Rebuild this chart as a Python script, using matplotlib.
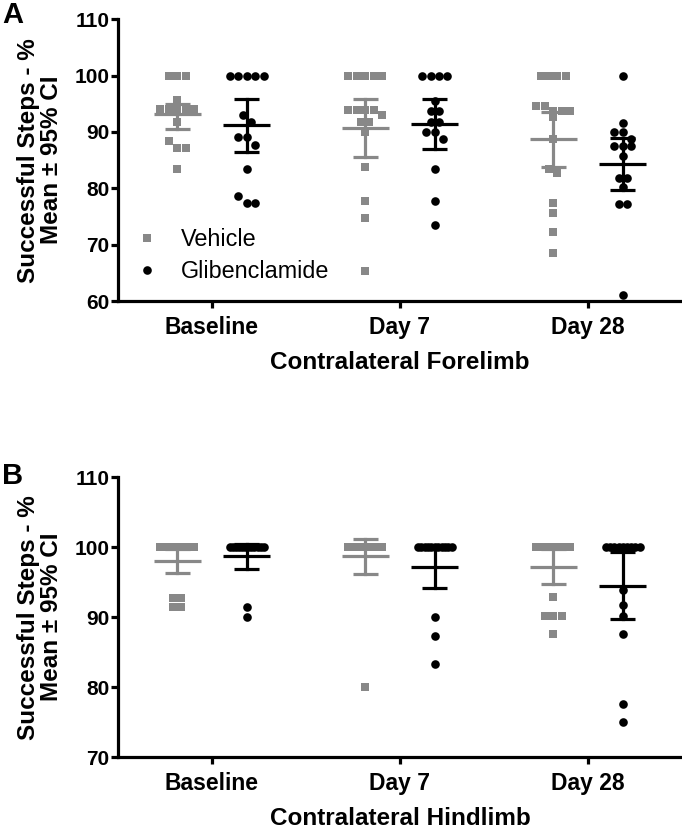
import numpy as np
import matplotlib
matplotlib.use('Agg')
import matplotlib.pyplot as plt
from matplotlib.lines import Line2D

plt.rcParams['font.family'] = ['Liberation Sans', 'DejaVu Sans']

groups = ['Baseline', 'Day 7', 'Day 28']

# Panel A - forelimb, individual animals (% successful steps)
fore_vehicle = [
    [100, 100, 100, 95.6, 94, 94, 94, 94, 94, 91.8, 88.4, 87.1, 87.1, 83.5],
    [100, 100, 100, 100, 100, 93.9, 93.9, 93.9, 93.9, 93.0, 91.8, 91.8, 90.0, 83.8, 77.7, 74.7, 65.3],
    [100, 100, 100, 100, 94.6, 94.6, 93.8, 93.8, 93.8, 92.7, 88.7, 83.5, 82.8, 77.4, 75.7, 72.3, 68.5],
]
fore_glib = [
    [100, 100, 100, 100, 100, 93.0, 91.8, 89.1, 89.1, 87.7, 83.5, 78.7, 77.4, 77.4],
    [100, 100, 100, 100, 95.5, 93.7, 93.7, 91.8, 91.8, 90.0, 90.0, 88.8, 83.4, 77.8, 73.5],
    [100, 91.6, 90.0, 90.0, 88.8, 87.5, 87.5, 87.5, 85.7, 81.8, 81.8, 80.2, 77.3, 77.3, 61.1],
]
fore_vehicle_mean = [93.1, 90.7, 88.8]
fore_vehicle_lo = [90.5, 85.6, 83.7]
fore_vehicle_hi = [95.0, 95.8, 93.6]
fore_glib_mean = [91.2, 91.4, 84.4]
fore_glib_lo = [86.4, 86.9, 79.7]
fore_glib_hi = [95.9, 95.8, 89.0]

# Panel B - hindlimb
hind_vehicle = [
    [100] * 12 + [92.7, 92.7, 91.5, 91.5],
    [100] * 14 + [80.0],
    [100] * 12 + [92.9, 90.1, 90.1, 90.1, 87.6],
]
hind_glib = [
    [100] * 12 + [91.5, 90.0],
    [100] * 11 + [90.0, 87.3, 83.3],
    [100] * 9 + [93.9, 91.7, 90.1, 87.6, 77.6, 75.0],
]
hind_vehicle_mean = [98.0, 98.7, 97.2]
hind_vehicle_lo = [96.3, 96.1, 94.7]
hind_vehicle_hi = [99.8, 101.2, 99.7]
hind_glib_mean = [98.7, 97.2, 94.4]
hind_glib_lo = [96.9, 94.2, 89.8]
hind_glib_hi = [100.4, 100.2, 99.3]

GREY = '#888888'
BLACK = '#000000'


def spread(vals, tol, step=0.045, maxw=0.18):
    # GraphPad-like scatter: points with close values are laid out side by side
    vals = np.asarray(vals, dtype=float)
    order = np.argsort(-vals, kind='stable')
    offs = np.zeros(len(vals))
    rows = []
    for i in order:
        if rows and vals[rows[-1][0]] - vals[i] <= tol:
            rows[-1].append(i)
        else:
            rows.append([i])
    for r in rows:
        n = len(r)
        s = min(step, maxw / (n - 1)) if n > 1 else 0
        for k, i in enumerate(r):
            offs[i] = (k - (n - 1) / 2) * s
    return offs


def draw_panel(ax, veh, glib, stats_v, stats_g, ylim, yticks, tol, xlabel):
    for gi in range(len(groups)):
        for data, off, col, mk, ms, (m, lo, hi) in [
            (veh[gi], -0.185, GREY, 's', 5.5, stats_v),
            (glib[gi], 0.185, BLACK, 'o', 6.2, stats_g),
        ]:
            xc = gi + off
            xs = xc + spread(data, tol)
            ax.plot(xs, data, ls='none', marker=mk, ms=ms, color=col,
                    markeredgewidth=0, zorder=3)
            ax.plot([xc - 0.125, xc + 0.125], [m[gi], m[gi]], color=col, lw=2.3,
                    solid_capstyle='butt', zorder=4)
            ax.plot([xc, xc], [lo[gi], hi[gi]], color=col, lw=2.3, zorder=4)
            for yv in (lo[gi], hi[gi]):
                ax.plot([xc - 0.067, xc + 0.067], [yv, yv], color=col, lw=2.3,
                        solid_capstyle='butt', zorder=4)

    ax.set_xlim(-0.5, 2.5)
    ax.set_ylim(*ylim)
    ax.set_yticks(yticks)
    ax.set_xticks(range(len(groups)))
    ax.set_xticklabels(groups)
    for s in ('top', 'right'):
        ax.spines[s].set_visible(False)
    for s in ('left', 'bottom'):
        ax.spines[s].set_linewidth(2.3)
    ax.tick_params(width=2.3, length=5)
    ax.tick_params(axis='y', labelsize=15, pad=1)
    ax.tick_params(axis='x', labelsize=16.5, pad=6)
    for lab in ax.get_xticklabels() + ax.get_yticklabels():
        lab.set_fontweight('bold')
    ax.set_ylabel('Successful Steps - %\nMean \u00b1 95% CI', fontsize=17.5,
                  fontweight='bold', linespacing=1.0)
    ax.yaxis.set_label_coords(-0.098, 0.5)
    ax.set_xlabel(xlabel, fontsize=17.5, fontweight='bold')
    ax.xaxis.set_label_coords(0.5, -0.178)


fig = plt.figure(figsize=(6.82, 8.32), dpi=100)
axA = fig.add_axes([0.173, 0.638, 0.827, 0.339])
axB = fig.add_axes([0.173, 0.090, 0.827, 0.3365])

draw_panel(axA, fore_vehicle, fore_glib,
           (fore_vehicle_mean, fore_vehicle_lo, fore_vehicle_hi),
           (fore_glib_mean, fore_glib_lo, fore_glib_hi),
           (60, 110), [60, 70, 80, 90, 100, 110], 1.4, 'Contralateral Forelimb')
draw_panel(axB, hind_vehicle, hind_glib,
           (hind_vehicle_mean, hind_vehicle_lo, hind_vehicle_hi),
           (hind_glib_mean, hind_glib_lo, hind_glib_hi),
           (70, 110), [70, 80, 90, 100, 110], 1.1, 'Contralateral Hindlimb')

for ax in (axA, axB):
    for ln in ax.lines:
        ln.set_clip_on(False)

handles = [
    Line2D([], [], ls='none', marker='s', ms=5.5, color=GREY, markeredgewidth=0),
    Line2D([], [], ls='none', marker='o', ms=6.2, color=BLACK, markeredgewidth=0),
]
axA.legend(handles, ['Vehicle', 'Glibenclamide'], loc='lower left',
           bbox_to_anchor=(-0.005, -0.01), frameon=False, fontsize=16.8,
           handlelength=0.9, handletextpad=1.0, labelspacing=0.4)

fig.text(0.003, 0.999, 'A', fontsize=21, fontweight='bold', va='top', ha='left')
fig.text(0.003, 0.445, 'B', fontsize=21, fontweight='bold', va='top', ha='left')

fig.savefig('out.png', dpi=100)
